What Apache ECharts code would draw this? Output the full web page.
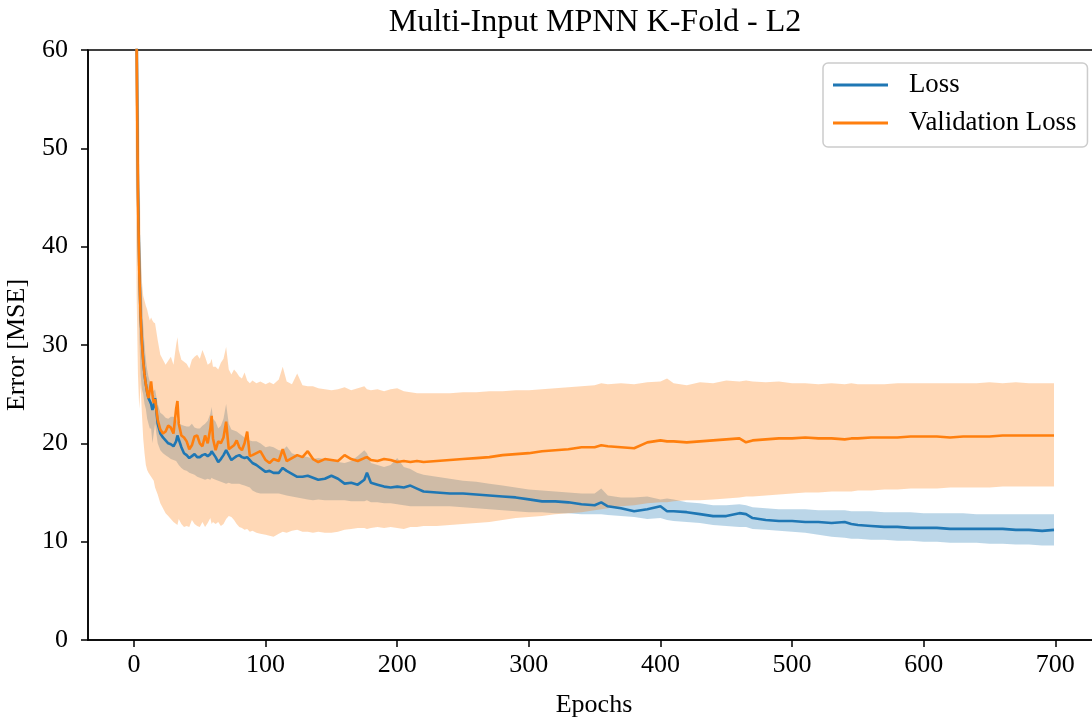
<!DOCTYPE html>
<html><head><meta charset="utf-8">
<script src="https://cdn.jsdelivr.net/npm/echarts@6/dist/echarts.min.js"></script>
<style>html,body{margin:0;padding:0;background:#fff}#chart{width:1092px;height:719px}</style>
</head><body><div id="chart"></div>
<script>
// ---- data ----
const epochs = [
  0,1,2,3,4,5,6,7,8,9,10,11,12,13,14,15,16,
  18,20,22,24,26,28,30,
  32,33,34,36,38,40,42,44,46,48,50,52,54,56,58,59,60,
  62,64,66,68,70,72,74,76,78,80,82,84,86,88,90,
  93,96,100,103,106,110,113,116,120,124,128,132,136,140,
  145,150,155,160,165,170,175,177,180,185,190,195,200,
  205,210,215,220,230,240,250,260,270,280,290,300,
  310,320,330,340,350,355,360,370,380,390,400,405,410,420,430,440,450,460,465,470,480,490,500,
  510,520,530,540,545,550,560,570,580,590,600,
  610,620,630,640,650,660,670,680,690,699
];
const lossMean = [
  180,100,62,46,38,33,30.5,28.5,27,26,25.2,24.6,24.3,24.0,23.4,23.8,24.6,
  22.0,21.0,20.6,20.3,20.0,19.9,19.7,
  20.2,20.8,20.4,19.6,19.0,18.8,18.5,18.7,18.9,18.6,18.6,18.8,18.9,18.7,18.9,19.2,19.0,
  18.6,18.1,18.4,18.8,19.3,18.8,18.3,18.5,18.7,18.8,18.6,18.5,18.6,18.3,18.0,
  17.8,17.5,17.1,17.2,17.0,17.0,17.5,17.2,16.9,16.6,16.6,16.7,16.5,16.3,
  16.4,16.7,16.4,15.9,16.0,15.8,16.3,17.0,16.0,15.8,15.6,15.5,15.6,
  15.5,15.7,15.4,15.1,15.0,14.9,14.9,14.8,14.7,14.6,14.5,14.3,
  14.1,14.1,14.0,13.8,13.7,14.0,13.6,13.4,13.1,13.3,13.6,13.1,13.1,13.0,12.8,12.6,12.6,12.9,12.8,12.4,12.2,12.1,12.1,
  12.0,12.0,11.9,12.0,11.8,11.7,11.6,11.5,11.5,11.4,11.4,
  11.4,11.3,11.3,11.3,11.3,11.3,11.2,11.2,11.1,11.2
];
const lossUpper = [
  200,115,72,54,45,39,35.5,32,30,28.5,27.5,26.8,26.3,26,25.5,25.3,25.5,
  24.0,23.1,22.9,22.6,22.5,22.7,22.7,
  22.5,22.2,22.0,21.9,21.8,21.7,21.7,22.0,21.6,21.5,21.5,21.8,22.0,22.3,23.0,23.7,22.5,
  22.2,21.5,21.8,22.5,24.0,22.0,21.4,21.3,21.2,21.0,20.8,20.6,20.3,20.3,20.2,
  20.2,20.0,19.6,19.7,19.6,19.3,19.3,19.7,19.0,18.8,18.7,18.6,18.4,18.5,
  18.4,18.3,18.1,18.0,18.2,18.7,19.3,19.0,18.0,17.8,17.6,17.8,18.5,
  17.6,17.4,17.0,16.8,16.6,16.4,16.2,16.1,15.9,15.7,15.5,15.3,
  15.2,15.1,15.0,14.9,14.9,15.4,14.7,14.5,14.5,14.6,14.3,14.4,14.3,14.0,13.9,13.7,13.7,13.8,13.7,13.5,13.4,13.3,13.3,
  13.3,13.2,13.2,13.2,13.1,13.1,13.1,13.0,13.0,13.0,12.9,
  12.9,12.9,12.9,12.8,12.8,12.8,12.8,12.8,12.8,12.8
];
const lossLower = [
  160,85,52,38,31,27,25.5,25,24,23.5,22.5,22,21.5,21.5,20,21,22,
  20.0,19.3,19.0,18.8,18.6,18.4,18.3,
  18.2,18.0,17.8,17.5,17.3,17.2,17.0,16.9,16.8,16.6,16.5,16.4,16.3,16.4,16.3,16.5,16.4,
  16.3,16.2,16.1,16.0,15.9,16.0,15.9,15.9,15.9,15.9,15.8,15.7,15.6,15.5,15.2,
  15.0,14.9,14.9,14.9,14.9,14.9,14.8,14.7,14.6,14.5,14.4,14.3,14.2,14.3,
  14.2,14.2,14.2,14.2,14.1,14.1,14.1,14.2,14.0,14.0,13.9,13.9,13.8,
  13.7,13.6,13.6,13.6,13.6,13.6,13.5,13.4,13.3,13.2,13.1,13.0,
  13.0,12.9,12.9,12.8,12.8,12.8,12.7,12.6,12.5,12.3,12.4,12.2,12.1,12.0,11.9,11.7,11.6,11.5,11.5,11.3,11.2,11.1,11.0,
  10.9,10.7,10.5,10.4,10.3,10.3,10.2,10.2,10.1,10.1,10.0,
  10.0,9.9,9.9,9.9,9.8,9.8,9.7,9.7,9.6,9.6
];
const valMean = [
  170,95,60,45,37.5,33,30.2,28.3,27,26,25.2,24.6,24.6,26.3,25,24.1,24.5,
  22.4,21.4,21.0,21.2,21.8,21.6,21.0,
  23.5,24.3,22.0,20.8,20.6,20.2,19.4,19.8,20.7,20.8,20.0,19.7,20.8,20.0,21.5,22.8,20.5,
  19.3,20.2,20.0,20.6,22.2,19.4,19.6,19.8,20.3,19.6,19.3,20.0,21.2,18.7,18.8,
  19.0,19.2,18.3,18.0,18.4,18.2,19.4,18.2,18.5,18.8,18.6,19.2,18.4,18.1,
  18.4,18.3,18.2,18.8,18.4,18.2,18.5,18.6,18.3,18.2,18.4,18.3,18.1,
  18.2,18.1,18.2,18.1,18.2,18.3,18.4,18.5,18.6,18.8,18.9,19.0,
  19.2,19.3,19.4,19.6,19.6,19.8,19.7,19.6,19.5,20.1,20.3,20.2,20.2,20.1,20.2,20.3,20.4,20.5,20.1,20.3,20.4,20.5,20.5,
  20.6,20.5,20.5,20.4,20.5,20.5,20.6,20.6,20.6,20.7,20.7,
  20.7,20.6,20.7,20.7,20.7,20.8,20.8,20.8,20.8,20.8
];
const valUpper = [
  230,140,90,65,52,40,36.5,35,34.5,34,33.6,33,32.5,32.8,32.5,32.3,32.2,
  30.5,29.0,28.5,28.0,28.4,28.8,28.0,
  30.0,30.8,29.5,28.5,28.3,28.1,27.6,28.5,28.8,29.0,28.6,29.5,28.8,28.0,28.2,28.6,27.8,
  27.8,27.5,28.2,28.6,29.8,27.5,27.0,27.5,27.2,26.8,26.6,27.2,26.4,26.1,26.4,
  26.1,26.3,26.0,26.2,26.0,26.5,27.8,26.3,26.0,27.1,25.9,25.8,25.8,25.6,
  25.5,25.4,25.5,25.7,25.4,25.6,25.8,25.5,25.4,25.5,25.3,25.5,25.6,
  25.3,25.2,25.1,25.1,25.1,25.1,25.2,25.2,25.3,25.3,25.4,25.4,
  25.5,25.6,25.7,25.8,25.9,26.1,26.0,26.1,26.0,26.2,26.3,26.6,26.1,25.9,26.2,26.1,26.4,26.3,26.4,26.3,26.2,26.3,26.1,
  26.1,26.0,26.1,26.0,26.1,26.0,26.0,26.0,26.1,26.1,26.1,
  26.1,26.1,26.1,26.1,26.2,26.1,26.2,26.1,26.1,26.1
];
const valLower = [
  110,55,35,27,23.5,26,23,20.5,19,17.8,17.3,17,16.8,16.6,16.4,16.2,15.5,
  14.8,13.9,13.4,12.9,12.6,12.3,12.0,
  11.8,11.7,12.3,11.8,11.5,11.6,11.5,12.2,11.8,11.6,11.5,12.0,11.5,11.9,12.4,11.8,12.0,
  11.8,12.0,11.6,11.8,12.3,12.6,12.5,12.2,11.8,11.5,11.4,11.2,11.3,11.0,11.1,
  10.9,10.8,10.7,10.6,10.5,10.8,11.0,10.9,11.1,11.2,11.0,11.0,10.9,11.0,
  10.9,10.9,11.0,11.2,11.3,11.4,11.4,11.3,11.4,11.5,11.4,11.5,11.4,
  11.3,11.5,11.5,11.6,11.6,11.7,11.8,11.9,12.0,12.2,12.4,12.5,
  12.6,12.8,12.9,13.0,13.2,13.3,13.4,13.6,13.7,13.9,14.0,14.0,14.1,14.2,14.2,14.3,14.4,14.5,14.6,14.6,14.7,14.8,14.9,
  15.0,15.0,15.1,15.1,15.1,15.2,15.2,15.3,15.3,15.4,15.4,
  15.4,15.5,15.5,15.5,15.5,15.6,15.6,15.6,15.6,15.6
];
const xTicks = [0,100,200,300,400,500,600,700];
const seriesNames = ['Loss','Validation Loss'];
const titleText = 'Multi-Input MPNN K-Fold - L2';

// ---- chart ----
const FONT = "'Liberation Serif','Times New Roman',serif";
const BLUE = '#1f77b4', ORANGE = '#ff7f0e';
const chart = echarts.init(document.getElementById('chart'), null, {renderer:'canvas'});

function bandSeries(name, lower, upper, fill, z) {
  return {
    type: 'custom', name: name, z: z, silent: true, clip: true,
    data: [[epochs[0], lower[0]]],
    encode: {x: 0, y: 1},
    renderItem: function (params, api) {
      const top = epochs.map((e, i) => api.coord([e, upper[i]]));
      const bot = epochs.map((e, i) => api.coord([e, lower[i]])).reverse();
      const cs = params.coordSys;
      return {
        type: 'polygon',
        shape: {points: top.concat(bot)},
        style: {fill: fill, stroke: null},
        clipPath: {type: 'rect', shape: {x: cs.x, y: cs.y, width: cs.width, height: cs.height}}
      };
    }
  };
}
function lineSeries(name, vals, color, z) {
  return {
    type: 'line', name: name, z: z, showSymbol: false, symbol: 'none', clip: true,
    color: color, animation: false,
    lineStyle: {color: color, width: 2.6},
    data: epochs.map((e, i) => [e, vals[i]])
  };
}

const axisLbl = {fontFamily: FONT, fontSize: 26, color: '#000'};
chart.setOption({
  animation: false,
  backgroundColor: '#fff',
  grid: {left: 88, top: 50, right: -8, bottom: 79, show: true, borderColor: '#000', borderWidth: 1.5,
         containLabel: false, outerBoundsMode: 'none'},
  graphic: [{
    type: 'text', x: 595, y: 23, z: 100,
    style: {text: titleText, fontFamily: FONT, fontSize: 32, fill: '#000', textAlign: 'center', textVerticalAlign: 'middle'}
  }],
  legend: {
    data: seriesNames, orient: 'vertical', left: 823, top: 63,
    padding: [7, 11, 9, 10], itemWidth: 55, itemHeight: 3, itemGap: 8, icon: 'rect',
    borderColor: '#cccccc', borderWidth: 1.5, borderRadius: 5, backgroundColor: 'rgba(255,255,255,0.8)',
    textStyle: {fontFamily: FONT, fontSize: 26.8, lineHeight: 30, color: '#000', padding: [0, 0, 0, 16]}
  },
  xAxis: {
    type: 'value', min: -34.95, max: 733.95,
    name: 'Epochs', nameLocation: 'middle', nameGap: 52,
    nameTextStyle: axisLbl,
    axisLine: {show: true, onZero: false, lineStyle: {color: '#000', width: 1.5}},
    axisTick: {show: true, inside: false, length: 7, lineStyle: {color: '#000', width: 1.5}, customValues: xTicks},
    axisLabel: Object.assign({margin: 12, customValues: xTicks}, axisLbl),
    splitLine: {show: false}
  },
  yAxis: {
    type: 'value', min: 0, max: 60, interval: 10,
    name: 'Error [MSE]', nameLocation: 'middle', nameGap: 58, nameRotate: 90,
    nameTextStyle: axisLbl,
    axisLine: {show: true, onZero: false, lineStyle: {color: '#000', width: 1.5}},
    axisTick: {show: true, inside: false, length: 7, lineStyle: {color: '#000', width: 1.5}},
    axisLabel: Object.assign({margin: 20}, axisLbl),
    splitLine: {show: false}
  },
  series: [
    bandSeries('lossBand', lossLower, lossUpper, 'rgba(31,119,180,0.3)', 1),
    bandSeries('valBand', valLower, valUpper, 'rgba(255,127,14,0.3)', 2),
    lineSeries(seriesNames[0], lossMean, BLUE, 3),
    lineSeries(seriesNames[1], valMean, ORANGE, 4)
  ]
});
</script></body></html>
